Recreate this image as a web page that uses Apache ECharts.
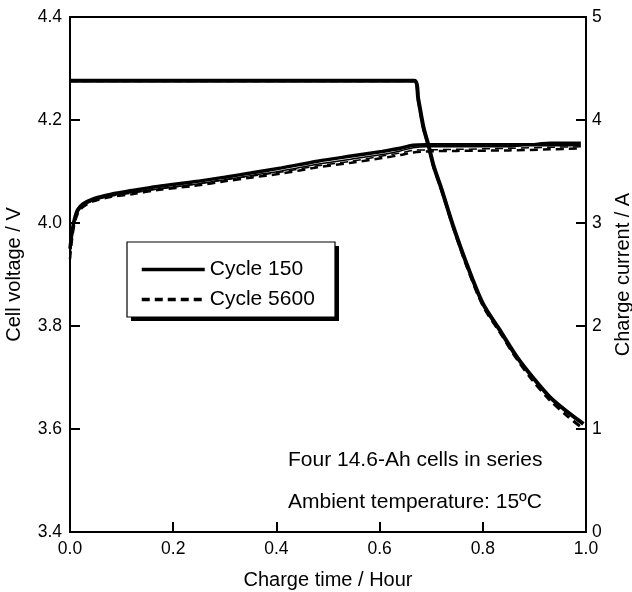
<!DOCTYPE html>
<html>
<head>
<meta charset="utf-8">
<script src="https://cdn.jsdelivr.net/npm/echarts@6/dist/echarts.min.js"></script>
<style>
  html, body { margin: 0; padding: 0; background: #fff; }
  #chart { width: 632px; height: 592px; }
</style>
</head>
<body>
<div id="chart"></div>
<script>
// charge time (hour) for the voltage curves
const timeV = [0, 0.003, 0.008, 0.015, 0.025, 0.045, 0.08, 0.12, 0.17, 0.24, 0.30, 0.35, 0.41, 0.48, 0.545, 0.605, 0.64, 0.665, 0.69, 0.75, 0.85, 0.93, 0.99]
// cell voltages (V)
const v150a = [3.95, 3.975, 4.005, 4.026, 4.037, 4.047, 4.056, 4.063, 4.071, 4.08, 4.089, 4.097, 4.107, 4.12, 4.13, 4.139, 4.145, 4.151, 4.152, 4.152, 4.152, 4.152, 4.152]
const v150b = [3.94, 3.965, 4.0, 4.022, 4.034, 4.044, 4.053, 4.059, 4.066, 4.075, 4.084, 4.092, 4.101, 4.114, 4.124, 4.133, 4.14, 4.146, 4.148, 4.148, 4.148, 4.157, 4.157]
const v5600a = [3.93, 3.96, 3.995, 4.018, 4.031, 4.042, 4.051, 4.056, 4.064, 4.072, 4.081, 4.088, 4.096, 4.108, 4.117, 4.126, 4.132, 4.137, 4.139, 4.14, 4.141, 4.143, 4.145]
const v5600b = [3.94, 3.965, 3.998, 4.02, 4.033, 4.043, 4.052, 4.058, 4.066, 4.075, 4.084, 4.091, 4.099, 4.111, 4.12, 4.13, 4.136, 4.141, 4.142, 4.143, 4.145, 4.147, 4.148]

// charge current (A)
const timeI = [0, 0.667, 0.675, 0.685, 0.695, 0.705, 0.72, 0.742, 0.769, 0.8, 0.833, 0.866, 0.897, 0.93, 0.963, 0.995]
const i150 = [4.38, 4.38, 4.2, 3.93, 3.75, 3.55, 3.33, 2.98, 2.6, 2.22, 1.96, 1.70, 1.50, 1.31, 1.17, 1.05]
const i5600 = [4.38, 4.38, 4.19, 3.92, 3.74, 3.54, 3.32, 2.97, 2.58, 2.2, 1.94, 1.68, 1.47, 1.28, 1.13, 1.0]

const FONT = 'Liberation Sans, Arial, sans-serif'

function pairs(xs, ys) {
  return xs.map((x, i) => [x, ys[i]])
}

function lineSeries(name, xs, ys, width, dashed, axis) {
  return {
    name: name,
    type: 'line',
    yAxisIndex: axis,
    data: pairs(xs, ys),
    symbol: 'none',
    smooth: 0.3,
    lineStyle: {
      color: '#000',
      width: width,
      type: dashed ? [8, 5] : 'solid'
    },
    itemStyle: { color: '#000' },
    silent: true,
    animation: false
  }
}

const chart = echarts.init(document.getElementById('chart'))

chart.setOption({
  backgroundColor: '#fff',
  animation: false,
  textStyle: { fontFamily: FONT, color: '#000' },
  grid: {
    left: 70,
    right: 46,
    top: 17,
    bottom: 60,
    outerBoundsMode: 'none',
    show: true,
    borderColor: '#000',
    borderWidth: 2
  },
  legend: {
    left: 127,
    top: 242,
    z: 10,
    orient: 'vertical',
    data: ['Cycle 150', 'Cycle 5600'],
    itemWidth: 63,
    itemHeight: 18,
    itemGap: 9,
    itemTextGap: 8,
    padding: [17, 19, 13, 13],
    itemStyle: { opacity: 0 },
    lineStyle: { width: 3.5 },
    textStyle: { fontSize: 21, fontFamily: FONT, color: '#000' }
  },
  xAxis: {
    type: 'value',
    min: 0,
    max: 1,
    interval: 0.2,
    name: 'Charge time / Hour',
    nameLocation: 'middle',
    nameGap: 38,
    nameTextStyle: { fontSize: 20, fontFamily: FONT, color: '#000' },
    axisLine: { show: true, lineStyle: { color: '#000', width: 2 } },
    axisTick: { inside: true, length: 10, lineStyle: { color: '#000', width: 2 } },
    axisLabel: {
      fontSize: 17.5,
      color: '#000',
      margin: 8,
      formatter: (v) => v.toFixed(1)
    },
    splitLine: { show: false }
  },
  yAxis: [
    {
      type: 'value',
      min: 3.4,
      max: 4.4,
      interval: 0.2,
      name: 'Cell voltage / V',
      nameLocation: 'middle',
      nameGap: 46,
      nameTextStyle: { fontSize: 20, fontFamily: FONT, color: '#000' },
      axisLine: { show: true, lineStyle: { color: '#000', width: 2 } },
      axisTick: { inside: true, length: 10, lineStyle: { color: '#000', width: 2 } },
      axisLabel: {
        fontSize: 17.5,
        color: '#000',
        margin: 8,
        formatter: (v) => v.toFixed(1)
      },
      splitLine: { show: false }
    },
    {
      type: 'value',
      min: 0,
      max: 5,
      interval: 1,
      position: 'right',
      name: 'Charge current / A',
      nameLocation: 'middle',
      nameGap: 27,
      nameRotate: 90,
      nameTextStyle: { fontSize: 20, fontFamily: FONT, color: '#000' },
      axisLine: { show: true, lineStyle: { color: '#000', width: 2 } },
      axisTick: { inside: true, length: 10, lineStyle: { color: '#000', width: 2 } },
      axisLabel: { fontSize: 17.5, color: '#000', margin: 6 },
      splitLine: { show: false }
    }
  ],
  graphic: [
    // legend frame with its drop shadow
    {
      type: 'rect',
      z: 5,
      shape: { x: 131, y: 246, width: 208, height: 75 },
      style: { fill: '#000' }
    },
    {
      type: 'rect',
      z: 6,
      shape: { x: 127, y: 242, width: 208, height: 75 },
      style: { fill: '#fff', stroke: '#000', lineWidth: 1.2 }
    },
    {
      type: 'text',
      x: 288,
      y: 460,
      style: {
        text: 'Four 14.6-Ah cells in series',
        fontSize: 21,
        fontFamily: FONT,
        fill: '#000',
        verticalAlign: 'middle'
      }
    },
    {
      type: 'text',
      x: 288,
      y: 502,
      style: {
        text: 'Ambient temperature: 15ºC',
        fontSize: 21,
        fontFamily: FONT,
        fill: '#000',
        verticalAlign: 'middle'
      }
    }
  ],
  series: [
    lineSeries('Cycle 150', timeV, v150a, 3.5, false, 0),
    lineSeries('Cycle 150', timeV, v150b, 1.5, false, 0),
    lineSeries('Cycle 5600', timeV, v5600a, 2.5, true, 0),
    lineSeries('Cycle 5600', timeV, v5600b, 1.5, true, 0),
    lineSeries('Cycle 150', timeI, i150, 4, false, 1),
    lineSeries('Cycle 5600', timeI, i5600, 3, true, 1)
  ]
})
</script>
</body>
</html>
